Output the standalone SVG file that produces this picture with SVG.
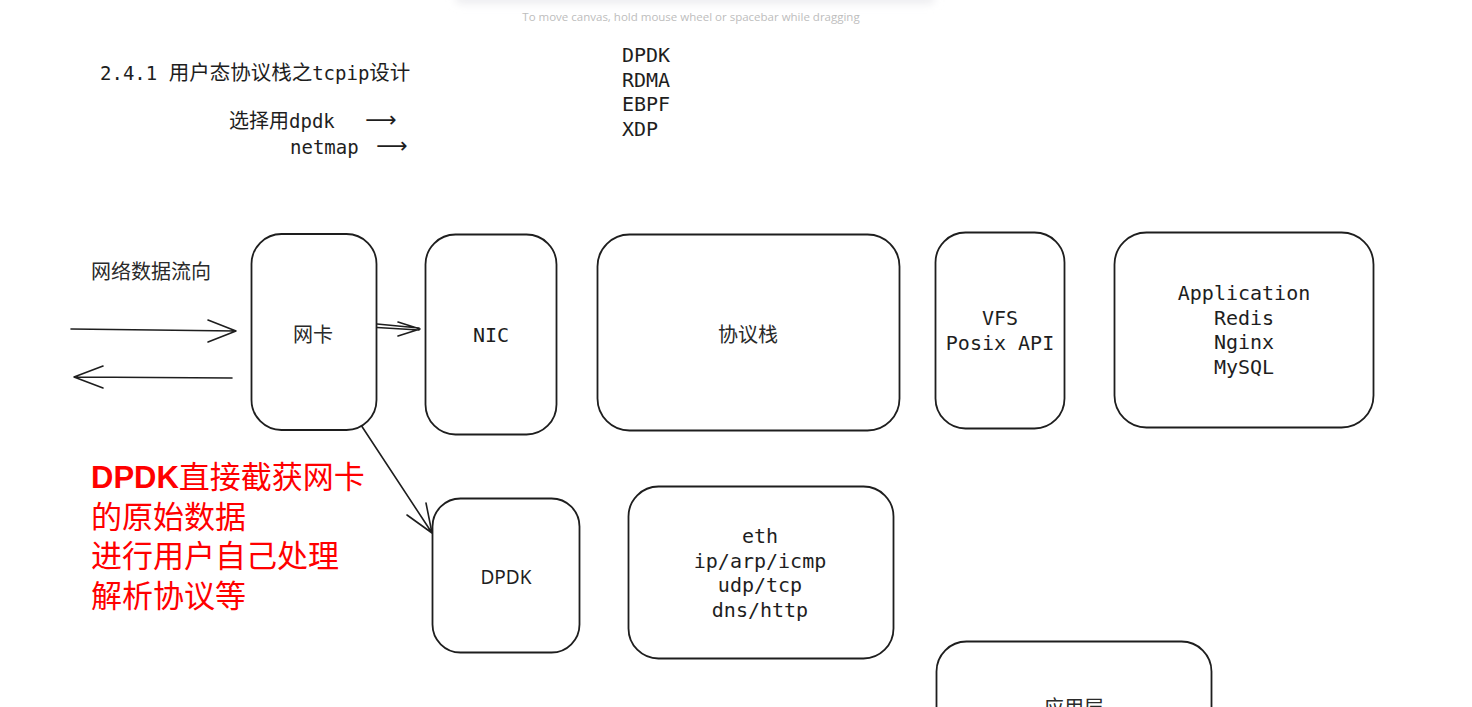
<svg xmlns="http://www.w3.org/2000/svg" width="1472" height="707" viewBox="0 0 1472 707">
<defs>
<style>
.box{fill:#ffffff;stroke:#1e1e1e;stroke-width:1.8}
.mono{font-family:"DejaVu Sans Mono","Liberation Mono","Noto Sans CJK SC",monospace;font-size:20px;fill:#1e1e1e}
.cjk{font-family:"Noto Sans CJK SC","Noto Sans",sans-serif;font-size:20px;fill:#2a2a2a}
.ctr{text-anchor:middle;dominant-baseline:central}
.conn{stroke:#1e1e1e;stroke-width:1.6;fill:none;stroke-linecap:round;stroke-linejoin:round}
.red{font-family:"Liberation Sans","Noto Sans CJK SC",sans-serif;font-size:31px;fill:#ff0000}
</style>
<filter id="blur" x="-10%" y="-200%" width="120%" height="500%"><feGaussianBlur stdDeviation="4"/></filter>
</defs>
<rect width="1472" height="707" fill="#ffffff"/>
<rect x="455" y="-8" width="480" height="12" rx="6" fill="#ededf0" filter="url(#blur)"/>
<text x="691" y="16" class="ctr" style="font-family:'Open Sans','Liberation Sans',sans-serif;font-size:11.5px;fill:#bdbdbd">To move canvas, hold mouse wheel or spacebar while dragging</text>

<g id="title">
<text x="100" y="73" class="mono" dominant-baseline="central" style="font-size:19px">2.4.1 <tspan style="font-size:20.5px">用户态协议栈之</tspan>tcpip<tspan style="font-size:20.5px">设计</tspan></text>
</g>
<g id="choice">
<text x="229" y="121" class="mono" dominant-baseline="central" style="font-size:19px"><tspan style="font-size:20px">选择用</tspan>dpdk</text>
<text x="381" y="119" class="ctr" style="font-family:'DejaVu Sans',sans-serif;font-size:22px;fill:#1e1e1e">⟶</text>
<text x="290" y="147" class="mono" dominant-baseline="central" style="font-size:19px">netmap</text>
<text x="392" y="145" class="ctr" style="font-family:'DejaVu Sans',sans-serif;font-size:22px;fill:#1e1e1e">⟶</text>
</g>
<g id="tech-list">
<text x="622" y="55" class="mono" dominant-baseline="central">DPDK</text>
<text x="622" y="79.5" class="mono" dominant-baseline="central">RDMA</text>
<text x="622" y="104" class="mono" dominant-baseline="central">EBPF</text>
<text x="622" y="128.5" class="mono" dominant-baseline="central">XDP</text>
</g>
<g id="flow-label">
<text x="91" y="270" class="cjk" dominant-baseline="central">网络数据流向</text>
</g>

<g id="connectors">
<path class="conn" d="M71 329 L236 331 M208 320 L236 331 L208 342"/>
<path class="conn" d="M232 378 L74 377 M103 366 L74 377 L103 388"/>
<path class="conn" d="M377 324 L419 328 M377 327.5 L419 330 M398 322 L420 329 L398 336"/>
<path class="conn" d="M359 422 L432 533 M407 515 L432 533 L426 503"/>
</g>

<g id="node-wangka">
<rect class="box" x="251.5" y="234" width="125" height="196" rx="30"/>
<text x="313" y="333" class="cjk ctr">网卡</text>
</g>
<g id="node-nic">
<rect class="box" x="425.5" y="234.5" width="131" height="200" rx="30"/>
<text x="491" y="335" class="mono ctr">NIC</text>
</g>
<g id="node-stack">
<rect class="box" x="597.5" y="234.5" width="302" height="196" rx="32"/>
<text x="748" y="333" class="cjk ctr">协议栈</text>
</g>
<g id="node-vfs">
<rect class="box" x="935.5" y="232.5" width="129" height="196" rx="30"/>
<text x="1000" y="318" class="mono ctr">VFS</text>
<text x="1000" y="342.5" class="mono ctr">Posix API</text>
</g>
<g id="node-app">
<rect class="box" x="1114.5" y="232.5" width="259" height="195" rx="32"/>
<text x="1244" y="293" class="mono ctr">Application</text>
<text x="1244" y="317.5" class="mono ctr">Redis</text>
<text x="1244" y="342" class="mono ctr">Nginx</text>
<text x="1244" y="366.5" class="mono ctr">MySQL</text>
</g>
<g id="node-dpdk">
<rect class="box" x="432.5" y="498.5" width="147" height="154" rx="28"/>
<text x="506" y="577" class="mono ctr" style="font-family:'Noto Sans','DejaVu Sans',sans-serif;font-size:19px">DPDK</text>
</g>
<g id="node-proto">
<rect class="box" x="628.5" y="486.5" width="265" height="172" rx="30"/>
<text x="760" y="536" class="mono ctr">eth</text>
<text x="760" y="560.5" class="mono ctr">ip/arp/icmp</text>
<text x="760" y="585" class="mono ctr">udp/tcp</text>
<text x="760" y="609.5" class="mono ctr">dns/http</text>
</g>
<g id="node-applayer">
<rect class="box" x="936.5" y="641.5" width="275" height="120" rx="30"/>
<text x="1074" y="706" class="cjk ctr">应用层</text>
</g>

<g id="note">
<text x="91" y="488" class="red"><tspan font-weight="bold">DPDK</tspan>直接截获网卡</text>
<text x="91" y="528" class="red">的原始数据</text>
<text x="91" y="567" class="red">进行用户自己处理</text>
<text x="91" y="607" class="red">解析协议等</text>
</g>
</svg>
